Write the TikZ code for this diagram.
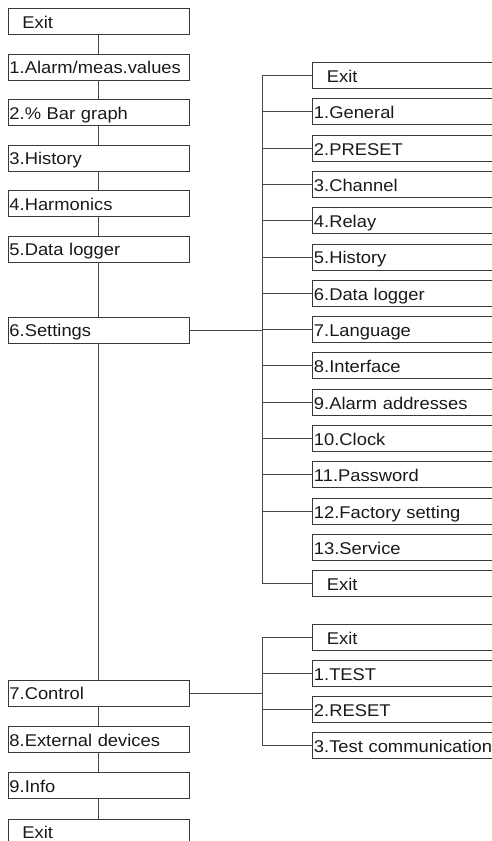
\documentclass[tikz,border=0pt]{standalone}
\usepackage{fontspec}
\setmainfont{Liberation Sans}[FakeStretch=1.08]
\begin{document}
\begin{tikzpicture}[x=1pt,y=1pt,
  boxbase/.style={draw=black!78, line width=0.9pt, anchor=north west, inner ysep=0pt,
    inner xsep=1.5pt, minimum height=26pt, align=left, text height=14pt, text depth=0pt,
    font=\fontsize{17}{20}\selectfont, text=black!90},
  lbox/.style={boxbase, text width=178.5pt},
  rbox/.style={boxbase, text width=210pt},
  conn/.style={draw=black!72, line width=0.9pt}]
\useasboundingbox (0,0) rectangle (492,-841);
\clip (0,0) rectangle (492,-841);
% main menu
\node[lbox] (m0) at (7.5,-8) {\hspace*{13pt}Exit};
\node[lbox] (m1) at (7.5,-53.5) {1.Alarm/meas.values};
\node[lbox] (m2) at (7.5,-99) {2.\% Bar graph};
\node[lbox] (m3) at (7.5,-144.5) {3.History};
\node[lbox] (m4) at (7.5,-190) {4.Harmonics};
\node[lbox] (m5) at (7.5,-235.5) {5.Data logger};
\node[lbox] (m6) at (7.5,-316.5) {6.Settings};
\node[lbox] (m7) at (7.5,-679.5) {7.Control};
\node[lbox] (m8) at (7.5,-726) {8.External devices};
\node[lbox] (m9) at (7.5,-772) {9.Info};
\node[lbox] (m10) at (7.5,-818.5) {\hspace*{13pt}Exit};
% settings submenu
\node[rbox] (s0) at (312,-62) {\hspace*{13pt}Exit};
\node[rbox] (s1) at (312,-98.3) {1.General};
\node[rbox] (s2) at (312,-134.6) {2.PRESET};
\node[rbox] (s3) at (312,-170.9) {3.Channel};
\node[rbox] (s4) at (312,-207.2) {4.Relay};
\node[rbox] (s5) at (312,-243.5) {5.History};
\node[rbox] (s6) at (312,-279.8) {6.Data logger};
\node[rbox] (s7) at (312,-316.1) {7.Language};
\node[rbox] (s8) at (312,-352.4) {8.Interface};
\node[rbox] (s9) at (312,-388.7) {9.Alarm addresses};
\node[rbox] (s10) at (312,-425) {10.Clock};
\node[rbox] (s11) at (312,-461.3) {11.Password};
\node[rbox] (s12) at (312,-497.6) {12.Factory setting};
\node[rbox] (s13) at (312,-533.9) {13.Service};
\node[rbox] (s14) at (312,-570.2) {\hspace*{13pt}Exit};
% control submenu
\node[rbox] (c0) at (312,-624) {\hspace*{13pt}Exit};
\node[rbox] (c1) at (312,-660) {1.TEST};
\node[rbox] (c2) at (312,-696) {2.RESET};
\node[rbox] (c3) at (312,-732) {3.Test communication};
% bus x position
\coordinate (sb) at (262,0);
% main chain
\foreach \a/\b in {m0/m1,m1/m2,m2/m3,m3/m4,m4/m5,m5/m6,m6/m7,m7/m8,m8/m9,m9/m10}
  \draw[conn] (\a.south) -- (\b.north);
% settings branch
\draw[conn] (m6.east) -- (m6.east -| sb);
\draw[conn] (s0.west) -- (s0.west -| sb) -- (s14.west -| sb) -- (s14.west);
\foreach \i in {1,...,12}
  \draw[conn] (s\i.west -| sb) -- (s\i.west);
% control branch
\draw[conn] (m7.east) -- (m7.east -| sb);
\draw[conn] (c0.west) -- (c0.west -| sb) -- (c3.west -| sb) -- (c3.west);
\foreach \i in {1,2}
  \draw[conn] (c\i.west -| sb) -- (c\i.west);
\end{tikzpicture}
\end{document}
